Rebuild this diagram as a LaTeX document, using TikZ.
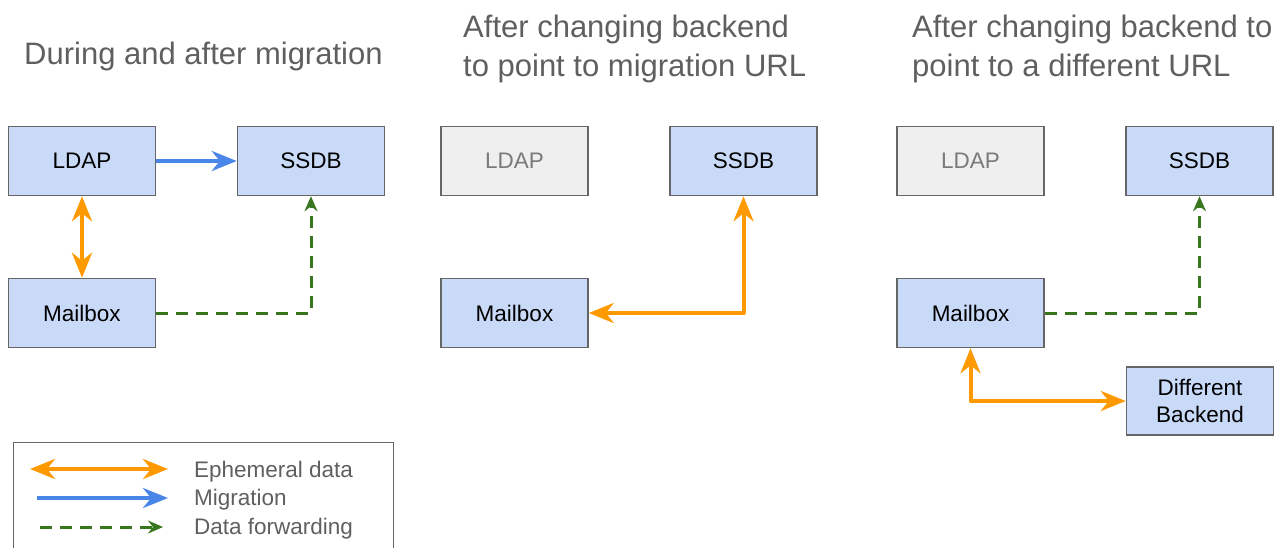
\documentclass[tikz,border=0pt]{standalone}
\usepackage{fontspec}
\setmainfont{Liberation Sans}
\usetikzlibrary{arrows.meta}
\definecolor{boxBlue}{HTML}{C9DAF8}
\definecolor{boxGray}{HTML}{EFEFEF}
\definecolor{edgeGray}{HTML}{666666}
\definecolor{textGray}{HTML}{5F5F5F}
\definecolor{fadeGray}{HTML}{7A7A7A}
\definecolor{ephOrange}{HTML}{FF9900}
\definecolor{migBlue}{HTML}{4A86E8}
\definecolor{fwdGreen}{HTML}{38761D}
\tikzset{
  sysbox/.style={draw=edgeGray, line width=1.5pt, fill=boxBlue, align=center, minimum width=147, minimum height=69, inner sep=0pt, font=\fontsize{22.5}{27}\selectfont},
  oldbox/.style={sysbox, fill=boxGray, text=fadeGray},
  title/.style={anchor=north west, align=left, inner sep=0pt, text=textGray, font=\fontsize{31}{38.5}\selectfont},
  legendtext/.style={anchor=base west, inner sep=0pt, text=textGray, font=\fontsize{22.5}{27}\selectfont},
  ephem/.style={{Stealth[length=25pt,width=20pt,inset=8pt]}-{Stealth[length=25pt,width=20pt,inset=8pt]}, line width=4pt, draw=ephOrange, line join=round},
  migr/.style={-{Stealth[length=25pt,width=20pt,inset=8pt]}, line width=4pt, draw=migBlue},
  fwd/.style={-{Stealth[length=15pt,width=13pt,inset=5pt]}, line width=3pt, draw=fwdGreen, dash pattern=on 12pt off 8pt}
}

\begin{document}
\begin{tikzpicture}[x=1pt,y=1pt]
  \useasboundingbox (0,0) rectangle (1281,-547);

  % titles
  \node[title] (t1) at (24,-42) {During and after migration};
  \node[title] (t2) at (463,-15) {After changing backend\\to point to migration URL};
  \node[title] (t3) at (912,-15) {After changing backend to\\point to a different URL};

  % during and after migration
  \node[sysbox] (ldap1) at (82,-161) {LDAP};
  \node[sysbox] (ssdb1) at (311,-161) {SSDB};
  \node[sysbox] (mail1) at (82,-313) {Mailbox};

  % backend points to migration URL
  \node[oldbox] (ldap2) at (514.5,-161) {LDAP};
  \node[sysbox] (ssdb2) at (743.5,-161) {SSDB};
  \node[sysbox] (mail2) at (514.5,-313) {Mailbox};

  % backend points to a different URL
  \node[oldbox] (ldap3) at (970.5,-161) {LDAP};
  \node[sysbox] (ssdb3) at (1199.5,-161) {SSDB};
  \node[sysbox] (mail3) at (970.5,-313) {Mailbox};
  \node[sysbox, minimum height=68] (diff) at (1200,-401) {Different\\Backend};

  \draw[ephem] (ldap1) -- (mail1);
  \draw[migr] (ldap1) -- (ssdb1);
  \draw[fwd] (mail1.east) -| (ssdb1.south);

  \draw[ephem] (mail2.east) -| (ssdb2.south);

  \draw[fwd] (mail3.east) -| (ssdb3.south);
  \draw[ephem] (mail3.south) |- (diff.west);

  % legend
  \node[draw=edgeGray, line width=1.2pt, anchor=north west, minimum width=380, minimum height=130, inner sep=0pt] (legend) at (13,-442) {};
  \coordinate (ephA) at (30,-469);
  \coordinate (ephB) at (168,-469);
  \coordinate (migA) at (37,-498);
  \coordinate (migB) at (168,-498);
  \coordinate (fwdA) at (40,-527);
  \coordinate (fwdB) at (163,-527);
  \draw[ephem] (ephA) -- (ephB);
  \draw[migr] (migA) -- (migB);
  \draw[fwd] (fwdA) -- (fwdB);
  \node[legendtext] (lephem) at (194,-477) {Ephemeral data};
  \node[legendtext] (lmigr) at (194,-505) {Migration};
  \node[legendtext] (lfwd) at (194,-534) {Data forwarding};
\end{tikzpicture}
\end{document}
